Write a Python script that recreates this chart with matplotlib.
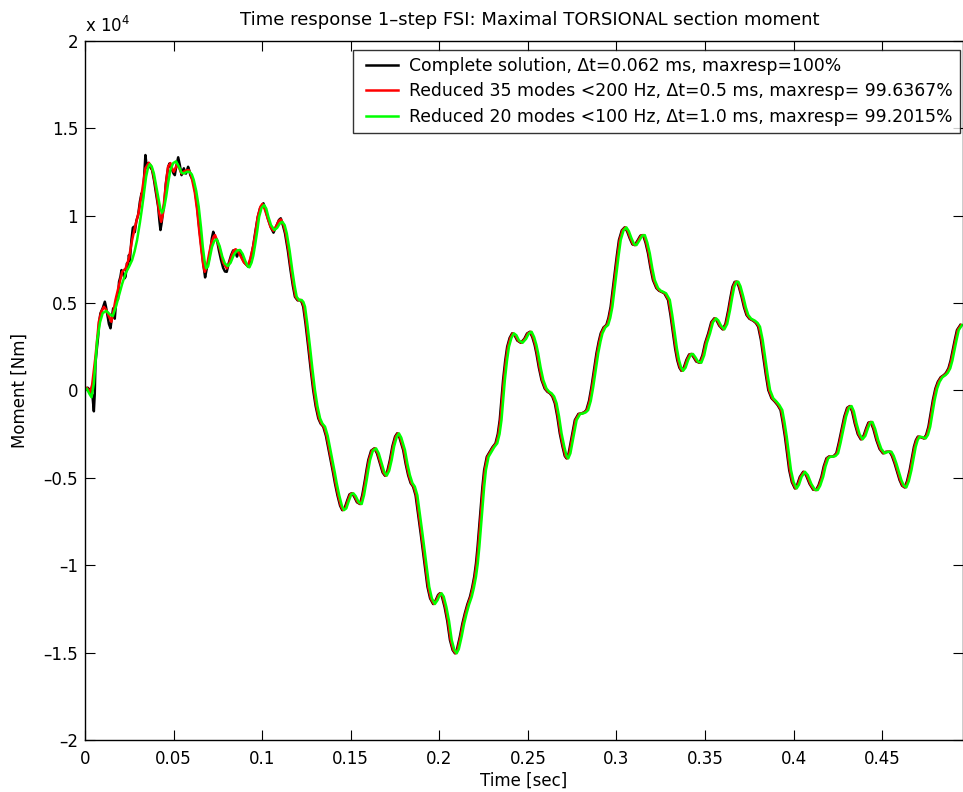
import matplotlib
matplotlib.use("Agg")
import matplotlib.pyplot as plt
from matplotlib.ticker import FixedLocator, FuncFormatter
from matplotlib.legend_handler import HandlerLine2D
from matplotlib.lines import Line2D

plt.rcParams['font.family'] = ['DejaVu Sans']

# ---------------------------------------------------------------------------
# Torsional section moment [Nm] versus time [s]
# ---------------------------------------------------------------------------

# Start-up phase (0 .. ~0.11 s): the three solutions differ in detail here
time_complete_start = [
    0.0000, 0.0015, 0.0030, 0.0042, 0.0050, 0.0055, 0.0059, 0.0066, 0.0074, 0.0080,
    0.0087, 0.0100, 0.0112, 0.0118, 0.0125, 0.0135, 0.0144, 0.0152, 0.0159, 0.0168,
    0.0178, 0.0186, 0.0192, 0.0200, 0.0206, 0.0215, 0.0223, 0.0229, 0.0237, 0.0242,
    0.0248, 0.0253, 0.0262, 0.0270, 0.0276, 0.0281, 0.0290, 0.0300, 0.0310, 0.0319,
    0.0326, 0.0334, 0.0341, 0.0347, 0.0352, 0.0358, 0.0366, 0.0379, 0.0390, 0.0398,
    0.0413, 0.0420, 0.0426, 0.0433, 0.0440, 0.0449, 0.0456, 0.0464, 0.0470, 0.0477,
    0.0485, 0.0492, 0.0500, 0.0507, 0.0515, 0.0526, 0.0535, 0.0545, 0.0552, 0.0558,
    0.0564, 0.0570, 0.0576, 0.0582, 0.0588, 0.0595, 0.0605, 0.0614, 0.0623, 0.0633,
    0.0645, 0.0657, 0.0668, 0.0678, 0.0686, 0.0699, 0.0710, 0.0716, 0.0724, 0.0732,
    0.0745, 0.0756, 0.0768, 0.0780, 0.0790, 0.0800, 0.0812, 0.0825, 0.0836, 0.0847,
    0.0853, 0.0858, 0.0866, 0.0875, 0.0885, 0.0900, 0.0922, 0.0935, 0.0950, 0.0962,
    0.0975, 0.0988, 0.1000, 0.1007, 0.1020, 0.1033, 0.1050, 0.1064, 0.1080, 0.1095,
    0.1105,
]
moment_complete_start = [
    0, 150, 0, -300, -1200, -200, 1540, 2300, 3070, 3900,
    4400, 4700, 5070, 4800, 4400, 3800, 3550, 4200, 4690, 4100,
    5350, 5200, 6200, 6500, 6880, 6700, 6400, 6500, 7270, 7100,
    7740, 7400, 8600, 9300, 9360, 9050, 9700, 10030, 10800, 11270,
    10900, 12300, 13460, 12900, 12700, 13000, 12800, 12600, 12000, 11460,
    10500, 9700, 9170, 9600, 10200, 10800, 11800, 12400, 12800, 12980,
    12750, 12600, 12400, 12310, 12800, 13330, 12900, 12310, 12500, 12700,
    12450, 12400, 12600, 12790, 12600, 12300, 12100, 11840, 11300, 10500,
    9300, 8210, 7200, 6460, 6900, 7450, 8200, 8700, 9070, 8800,
    8600, 8000, 7450, 7000, 6800, 6780, 7300, 7740, 8000, 8030,
    7800, 7650, 7900, 8000, 7600, 7300, 7070, 7500, 8300, 9100,
    9900, 10410, 10600, 10700, 10300, 9800, 9300, 9020, 9400, 9750,
    9840,
]

time_red35_start = [
    0.0000, 0.0010, 0.0028, 0.0040, 0.0059, 0.0078, 0.0092, 0.0107, 0.0120, 0.0132,
    0.0149, 0.0160, 0.0172, 0.0190, 0.0210, 0.0229, 0.0248, 0.0266, 0.0285, 0.0304,
    0.0323, 0.0341, 0.0360, 0.0372, 0.0383, 0.0395, 0.0407, 0.0420, 0.0430, 0.0440,
    0.0449, 0.0460, 0.0469, 0.0482, 0.0492, 0.0501, 0.0510, 0.0520, 0.0532, 0.0545,
    0.0556, 0.0568, 0.0586, 0.0596, 0.0605, 0.0620, 0.0633, 0.0645, 0.0657, 0.0667,
    0.0676, 0.0688, 0.0701, 0.0714, 0.0726, 0.0734, 0.0748, 0.0762, 0.0780, 0.0800,
    0.0815, 0.0829, 0.0840, 0.0851, 0.0863, 0.0875, 0.0895, 0.0918, 0.0932, 0.0949,
    0.0962, 0.0975, 0.0990, 0.1001, 0.1015, 0.1031, 0.1047, 0.1063, 0.1080, 0.1094,
    0.1106,
]
moment_red35_start = [
    0, 150, -100, 300, 1920, 3920, 4500, 4780, 4600, 4300,
    3920, 4500, 5170, 5930, 6780, 6970, 7550, 8600, 9460, 10220,
    11460, 12700, 13020, 12850, 12500, 11850, 11070, 10100, 9640, 10100,
    11070, 12100, 12790, 13000, 12700, 12500, 12700, 12940, 12700, 12400,
    12500, 12570, 12600, 12400, 12030, 11300, 10310, 9100, 8020, 7200,
    6780, 7100, 7840, 8450, 8790, 8880, 8500, 8030, 7300, 6980,
    7300, 7740, 8000, 8070, 7950, 7740, 7350, 7110, 7500, 8220,
    9000, 9930, 10500, 10660, 10350, 9840, 9350, 9130, 9400, 9700,
    9780,
]

time_green20_start = [
    0.0000, 0.0010, 0.0025, 0.0037, 0.0050, 0.0069, 0.0085, 0.0100, 0.0120, 0.0140,
    0.0157, 0.0175, 0.0190, 0.0210, 0.0229, 0.0250, 0.0266, 0.0280, 0.0294, 0.0310,
    0.0323, 0.0345, 0.0356, 0.0366, 0.0377, 0.0389, 0.0400, 0.0413, 0.0425, 0.0435,
    0.0446, 0.0458, 0.0470, 0.0482, 0.0498, 0.0514, 0.0530, 0.0545, 0.0558, 0.0575,
    0.0590, 0.0603, 0.0614, 0.0628, 0.0642, 0.0655, 0.0665, 0.0675, 0.0684, 0.0695,
    0.0705, 0.0717, 0.0730, 0.0744, 0.0760, 0.0775, 0.0790, 0.0806, 0.0822, 0.0840,
    0.0858, 0.0875, 0.0890, 0.0905, 0.0918, 0.0928, 0.0940, 0.0950, 0.0960, 0.0972,
    0.0983, 0.0997, 0.1011, 0.1023, 0.1035, 0.1050, 0.1069, 0.1085, 0.1100, 0.1114,
]
moment_green20_start = [
    0, 100, -200, -400, 400, 2880, 3900, 4420, 4550, 4350,
    4250, 4800, 5350, 6100, 6690, 7100, 7450, 7950, 8600, 9600,
    10500, 12220, 12750, 12940, 12800, 12400, 11800, 11070, 10400, 10160,
    10400, 11070, 11900, 12600, 13000, 13100, 12800, 12450, 12400, 12500,
    12500, 12350, 12030, 11400, 10500, 9300, 8210, 7400, 6980, 7100,
    7600, 8210, 8550, 8640, 8250, 7650, 7250, 7110, 7300, 7750,
    8000, 8030, 7800, 7400, 7100, 7035, 7300, 7700, 8300, 9100,
    9930, 10450, 10600, 10400, 9930, 9450, 9170, 9300, 9550, 9640,
]

# Remainder (~0.11 s .. end): same shape for all three, with the reduced
# models trailing the complete solution by a fraction of a millisecond
moment_rest = [
    9450, 8980, 8000, 6880, 6000, 5350, 5150, 5170, 5050, 4780,
    3800, 2490, 1200, 17, -900, -1600, -1900, -2080, -2600, -3800,
    -4700, -5320, -6000, -6600, -6850, -6750, -6300, -5950, -5890, -6050,
    -6400, -6500, -6000, -5130, -4500, -3990, -3450, -3320, -3600, -4180,
    -4700, -4880, -4600, -3990, -3200, -2650, -2460, -2700, -3410, -4200,
    -4850, -5300, -5510, -6000, -7040, -8200, -9320, -11230, -11900, -12220,
    -12000, -11700, -11610, -11800, -12400, -13200, -14280, -14850, -15040, -14800,
    -14090, -13350, -12760, -12250, -11810, -11300, -10660, -9900, -8950, -7800,
    -6660, -5550, -4560, -3800, -3510, -3250, -3030, -2500, -1700, -600,
    590, 1700, 2490, 3000, 3260, 3150, 2850, 2720, 2950, 3250,
    3350, 3050, 2600, 2120, 1300, 590, 100, -80, -170, -350,
    -740, -1500, -2460, -3200, -3750, -3890, -3600, -2800, -1700, -1350,
    -1320, -1250, -1130, -600, 206, 1150, 2120, 2800, 3260, 3600,
    3740, 4150, 4780, 5700, 6690, 7700, 8600, 9150, 9320, 9100,
    8690, 8350, 8310, 8550, 8850, 8880, 8450, 7840, 7000, 6310,
    5850, 5700, 5640, 5550, 5170, 4300, 3260, 2400, 1730, 1300,
    1120, 1300, 1750, 2050, 2080, 1900, 1650, 1580, 2000, 2700,
    3260, 3900, 4120, 4000, 3700, 3490, 3800, 4590, 5300, 5930,
    6200, 6210, 5950, 5350, 4750, 4310, 4100, 3980, 3850, 3640,
    2900, 1920, 900, 17, -450, -650, -850, -1130, -1800, -2650,
    -3600, -4560, -5250, -5610, -5400, -4950, -4660, -4850, -5350, -5680,
    -5700, -5450, -4940, -4350, -3890, -3780, -3800, -3750, -3600, -3000,
    -2270, -1500, -1000, -900, -1200, -1890, -2500, -2800, -2600, -2150,
    -1850, -1810, -2200, -2840, -3350, -3600, -3520, -3510, -3750, -4180,
    -4700, -5130, -5450, -5550, -5200, -4560, -3850, -3230, -2850, -2650,
    -2680, -2750, -2550, -2080, -1300, -555, 100, 490, 750, 875,
    1000, 1260, 1700, 2300, 2900, 3450, 3740,
]

time_green20_rest = [
    0.1127, 0.1139, 0.1155, 0.1170, 0.1183, 0.1195, 0.1210, 0.1223, 0.1233, 0.1242,
    0.1255, 0.1270, 0.1284, 0.1298, 0.1312, 0.1327, 0.1340, 0.1355, 0.1370, 0.1393,
    0.1410, 0.1421, 0.1435, 0.1450, 0.1462, 0.1475, 0.1490, 0.1503, 0.1515, 0.1528,
    0.1545, 0.1562, 0.1575, 0.1590, 0.1600, 0.1609, 0.1625, 0.1643, 0.1658, 0.1675,
    0.1690, 0.1703, 0.1717, 0.1731, 0.1745, 0.1760, 0.1772, 0.1785, 0.1806, 0.1820,
    0.1834, 0.1848, 0.1862, 0.1876, 0.1890, 0.1905, 0.1919, 0.1943, 0.1958, 0.1975,
    0.1990, 0.2003, 0.2013, 0.2025, 0.2040, 0.2055, 0.2070, 0.2085, 0.2098, 0.2110,
    0.2126, 0.2140, 0.2154, 0.2168, 0.2183, 0.2195, 0.2207, 0.2217, 0.2226, 0.2235,
    0.2244, 0.2253, 0.2263, 0.2278, 0.2295, 0.2310, 0.2327, 0.2340, 0.2351, 0.2360,
    0.2370, 0.2382, 0.2393, 0.2407, 0.2421, 0.2435, 0.2450, 0.2470, 0.2490, 0.2505,
    0.2521, 0.2535, 0.2548, 0.2558, 0.2572, 0.2587, 0.2605, 0.2620, 0.2634, 0.2648,
    0.2662, 0.2676, 0.2690, 0.2705, 0.2718, 0.2728, 0.2740, 0.2755, 0.2775, 0.2795,
    0.2812, 0.2828, 0.2840, 0.2855, 0.2869, 0.2883, 0.2897, 0.2910, 0.2921, 0.2937,
    0.2953, 0.2965, 0.2977, 0.2988, 0.3000, 0.3012, 0.3024, 0.3040, 0.3056, 0.3070,
    0.3085, 0.3100, 0.3113, 0.3128, 0.3145, 0.3160, 0.3174, 0.3188, 0.3202, 0.3216,
    0.3235, 0.3250, 0.3263, 0.3280, 0.3301, 0.3315, 0.3329, 0.3341, 0.3353, 0.3365,
    0.3376, 0.3390, 0.3405, 0.3420, 0.3432, 0.3445, 0.3460, 0.3479, 0.3495, 0.3510,
    0.3528, 0.3545, 0.3562, 0.3575, 0.3590, 0.3609, 0.3625, 0.3641, 0.3653, 0.3665,
    0.3677, 0.3688, 0.3700, 0.3716, 0.3730, 0.3744, 0.3760, 0.3782, 0.3797, 0.3810,
    0.3825, 0.3839, 0.3853, 0.3867, 0.3885, 0.3904, 0.3920, 0.3936, 0.3948, 0.3961,
    0.3973, 0.3985, 0.4000, 0.4017, 0.4030, 0.4045, 0.4064, 0.4080, 0.4100, 0.4120,
    0.4136, 0.4150, 0.4167, 0.4180, 0.4195, 0.4210, 0.4223, 0.4237, 0.4251, 0.4265,
    0.4280, 0.4296, 0.4312, 0.4327, 0.4340, 0.4355, 0.4372, 0.4389, 0.4405, 0.4420,
    0.4432, 0.4445, 0.4460, 0.4477, 0.4495, 0.4514, 0.4530, 0.4552, 0.4565, 0.4580,
    0.4595, 0.4608, 0.4622, 0.4636, 0.4650, 0.4665, 0.4678, 0.4689, 0.4700, 0.4711,
    0.4728, 0.4745, 0.4758, 0.4771, 0.4784, 0.4796, 0.4810, 0.4824, 0.4840, 0.4858,
    0.4870, 0.4884, 0.4896, 0.4908, 0.4920, 0.4932, 0.4951,
]

time_red35_rest = [
    0.1121, 0.1133, 0.1149, 0.1164, 0.1177, 0.1189, 0.1204, 0.1217, 0.1227, 0.1236,
    0.1249, 0.1264, 0.1278, 0.1292, 0.1306, 0.1321, 0.1334, 0.1349, 0.1364, 0.1387,
    0.1404, 0.1415, 0.1429, 0.1444, 0.1456, 0.1469, 0.1484, 0.1497, 0.1509, 0.1522,
    0.1539, 0.1556, 0.1569, 0.1584, 0.1594, 0.1603, 0.1619, 0.1637, 0.1652, 0.1669,
    0.1684, 0.1697, 0.1711, 0.1725, 0.1739, 0.1754, 0.1766, 0.1779, 0.1800, 0.1814,
    0.1828, 0.1842, 0.1856, 0.1870, 0.1884, 0.1899, 0.1913, 0.1937, 0.1952, 0.1969,
    0.1984, 0.1997, 0.2007, 0.2019, 0.2034, 0.2049, 0.2064, 0.2079, 0.2092, 0.2104,
    0.2120, 0.2134, 0.2148, 0.2162, 0.2177, 0.2189, 0.2201, 0.2211, 0.2220, 0.2229,
    0.2238, 0.2247, 0.2257, 0.2272, 0.2289, 0.2304, 0.2321, 0.2334, 0.2345, 0.2354,
    0.2364, 0.2376, 0.2387, 0.2401, 0.2415, 0.2429, 0.2444, 0.2464, 0.2484, 0.2499,
    0.2515, 0.2529, 0.2542, 0.2552, 0.2566, 0.2581, 0.2599, 0.2614, 0.2628, 0.2642,
    0.2656, 0.2670, 0.2684, 0.2699, 0.2712, 0.2722, 0.2734, 0.2749, 0.2769, 0.2789,
    0.2806, 0.2822, 0.2834, 0.2849, 0.2863, 0.2877, 0.2891, 0.2904, 0.2915, 0.2931,
    0.2947, 0.2959, 0.2971, 0.2982, 0.2994, 0.3006, 0.3018, 0.3034, 0.3050, 0.3064,
    0.3079, 0.3094, 0.3107, 0.3122, 0.3139, 0.3154, 0.3168, 0.3182, 0.3196, 0.3210,
    0.3229, 0.3244, 0.3257, 0.3274, 0.3295, 0.3309, 0.3323, 0.3335, 0.3347, 0.3359,
    0.3370, 0.3384, 0.3399, 0.3414, 0.3426, 0.3439, 0.3454, 0.3473, 0.3489, 0.3504,
    0.3522, 0.3539, 0.3556, 0.3569, 0.3584, 0.3603, 0.3619, 0.3635, 0.3647, 0.3659,
    0.3671, 0.3682, 0.3694, 0.3710, 0.3724, 0.3738, 0.3754, 0.3776, 0.3791, 0.3804,
    0.3819, 0.3833, 0.3847, 0.3861, 0.3879, 0.3898, 0.3914, 0.3930, 0.3942, 0.3955,
    0.3967, 0.3979, 0.3994, 0.4011, 0.4024, 0.4039, 0.4058, 0.4074, 0.4094, 0.4114,
    0.4130, 0.4144, 0.4161, 0.4174, 0.4189, 0.4204, 0.4217, 0.4231, 0.4245, 0.4259,
    0.4274, 0.4290, 0.4306, 0.4321, 0.4334, 0.4349, 0.4366, 0.4383, 0.4399, 0.4414,
    0.4426, 0.4439, 0.4454, 0.4471, 0.4489, 0.4508, 0.4524, 0.4546, 0.4559, 0.4574,
    0.4589, 0.4602, 0.4616, 0.4630, 0.4644, 0.4659, 0.4672, 0.4683, 0.4694, 0.4705,
    0.4722, 0.4739, 0.4752, 0.4765, 0.4778, 0.4790, 0.4804, 0.4818, 0.4834, 0.4852,
    0.4864, 0.4878, 0.4890, 0.4902, 0.4914, 0.4926, 0.4945,
]

time_complete_rest = [
    0.1117, 0.1129, 0.1145, 0.1160, 0.1173, 0.1185, 0.1200, 0.1213, 0.1223, 0.1232,
    0.1245, 0.1260, 0.1274, 0.1288, 0.1302, 0.1317, 0.1330, 0.1345, 0.1360, 0.1383,
    0.1400, 0.1411, 0.1425, 0.1440, 0.1452, 0.1465, 0.1480, 0.1493, 0.1505, 0.1518,
    0.1535, 0.1552, 0.1565, 0.1580, 0.1590, 0.1599, 0.1615, 0.1633, 0.1648, 0.1665,
    0.1680, 0.1693, 0.1707, 0.1721, 0.1735, 0.1750, 0.1762, 0.1775, 0.1796, 0.1810,
    0.1824, 0.1838, 0.1852, 0.1866, 0.1880, 0.1895, 0.1909, 0.1933, 0.1948, 0.1965,
    0.1980, 0.1993, 0.2003, 0.2015, 0.2030, 0.2045, 0.2060, 0.2075, 0.2088, 0.2100,
    0.2116, 0.2130, 0.2144, 0.2158, 0.2173, 0.2185, 0.2197, 0.2207, 0.2216, 0.2225,
    0.2234, 0.2243, 0.2253, 0.2268, 0.2285, 0.2300, 0.2317, 0.2330, 0.2341, 0.2350,
    0.2360, 0.2372, 0.2383, 0.2397, 0.2411, 0.2425, 0.2440, 0.2460, 0.2480, 0.2495,
    0.2511, 0.2525, 0.2538, 0.2548, 0.2562, 0.2577, 0.2595, 0.2610, 0.2624, 0.2638,
    0.2652, 0.2666, 0.2680, 0.2695, 0.2708, 0.2718, 0.2730, 0.2745, 0.2765, 0.2785,
    0.2802, 0.2818, 0.2830, 0.2845, 0.2859, 0.2873, 0.2887, 0.2900, 0.2911, 0.2927,
    0.2943, 0.2955, 0.2967, 0.2978, 0.2990, 0.3002, 0.3014, 0.3030, 0.3046, 0.3060,
    0.3075, 0.3090, 0.3103, 0.3118, 0.3135, 0.3150, 0.3164, 0.3178, 0.3192, 0.3206,
    0.3225, 0.3240, 0.3253, 0.3270, 0.3291, 0.3305, 0.3319, 0.3331, 0.3343, 0.3355,
    0.3366, 0.3380, 0.3395, 0.3410, 0.3422, 0.3435, 0.3450, 0.3469, 0.3485, 0.3500,
    0.3518, 0.3535, 0.3552, 0.3565, 0.3580, 0.3599, 0.3615, 0.3631, 0.3643, 0.3655,
    0.3667, 0.3678, 0.3690, 0.3706, 0.3720, 0.3734, 0.3750, 0.3772, 0.3787, 0.3800,
    0.3815, 0.3829, 0.3843, 0.3857, 0.3875, 0.3894, 0.3910, 0.3926, 0.3938, 0.3951,
    0.3963, 0.3975, 0.3990, 0.4007, 0.4020, 0.4035, 0.4054, 0.4070, 0.4090, 0.4110,
    0.4126, 0.4140, 0.4157, 0.4170, 0.4185, 0.4200, 0.4213, 0.4227, 0.4241, 0.4255,
    0.4270, 0.4286, 0.4302, 0.4317, 0.4330, 0.4345, 0.4362, 0.4379, 0.4395, 0.4410,
    0.4422, 0.4435, 0.4450, 0.4467, 0.4485, 0.4504, 0.4520, 0.4542, 0.4555, 0.4570,
    0.4585, 0.4598, 0.4612, 0.4626, 0.4640, 0.4655, 0.4668, 0.4679, 0.4690, 0.4701,
    0.4718, 0.4735, 0.4748, 0.4761, 0.4774, 0.4786, 0.4800, 0.4814, 0.4830, 0.4848,
    0.4860, 0.4874, 0.4886, 0.4898, 0.4910, 0.4922, 0.4941,
]

labels = [
    "Complete solution, \u0394t=0.062 ms, maxresp=100%",
    "Reduced 35 modes <200 Hz, \u0394t=0.5 ms, maxresp= 99.6367%",
    "Reduced 20 modes <100 Hz, \u0394t=1.0 ms, maxresp= 99.2015%",
]
colors = ["#000000", "#ff0000", "#00ff00"]

x_ticks = [0, 0.05, 0.1, 0.15, 0.2, 0.25, 0.3, 0.35, 0.4, 0.45]
y_ticks = [-20000, -15000, -10000, -5000, 0, 5000, 10000, 15000, 20000]

series = [
    (time_complete_start + time_complete_rest, moment_complete_start + moment_rest),
    (time_red35_start + time_red35_rest, moment_red35_start + moment_rest),
    (time_green20_start + time_green20_rest, moment_green20_start + moment_rest),
]

# ---------------------------------------------------------------------------
W, H = 963, 792
fig = plt.figure(figsize=(W / 100, H / 100), dpi=100)
ax = fig.add_axes([85 / W, 52 / H, 878 / W, 699.3 / H])

for (t, m), c, lab in zip(series, colors, labels):
    ax.plot(t, m, color=c, lw=1.8, label=lab, solid_joinstyle="round")

ax.set_xlim(0, 0.4956)
ax.set_ylim(-20000, 20000)
ax.xaxis.set_major_locator(FixedLocator(x_ticks))
ax.yaxis.set_major_locator(FixedLocator(y_ticks))
ax.xaxis.set_major_formatter(FuncFormatter(lambda v, p: f"{v:g}"))
ax.yaxis.set_major_formatter(
    FuncFormatter(lambda v, p: f"{v / 1e4:g}".replace("-", "\u2013")))

tick_fs = 12
ax.tick_params(direction="in", top=True, right=True, length=7, width=0.8,
               labelsize=tick_fs, colors="black")
ax.tick_params(axis="x", pad=7.5)
ax.tick_params(axis="y", pad=5)
for s in ax.spines.values():
    s.set_linewidth(1.0)

fig.text(524 / W, 1 - 781 / H, "Time [sec]", fontsize=tick_fs,
         ha="center", va="center")
fig.text(20 / W, 1 - 390 / H, "Moment [Nm]", fontsize=tick_fs,
         rotation=90, ha="center", va="center")
fig.text(530 / W, 1 - 25 / H,
         "Time response 1\u2013step FSI: Maximal TORSIONAL section moment",
         fontsize=13, ha="center", va="baseline")
fig.text(85 / W, 1 - 32 / H, r"x 10$^{4}$", fontsize=tick_fs,
         ha="left", va="baseline")

leg_fs = 12.4
leg = ax.legend(loc="upper right", bbox_to_anchor=(0.9966, 0.9867),
                borderaxespad=0, fontsize=leg_fs, frameon=True, fancybox=False,
                handlelength=2.2, handletextpad=0.65, borderpad=0.4,
                labelspacing=0.43,
                handler_map={Line2D: HandlerLine2D(xpad=0.32)})
leg.get_frame().set_edgecolor("black")
leg.get_frame().set_linewidth(1.0)

fig.savefig("out.png", dpi=100)
